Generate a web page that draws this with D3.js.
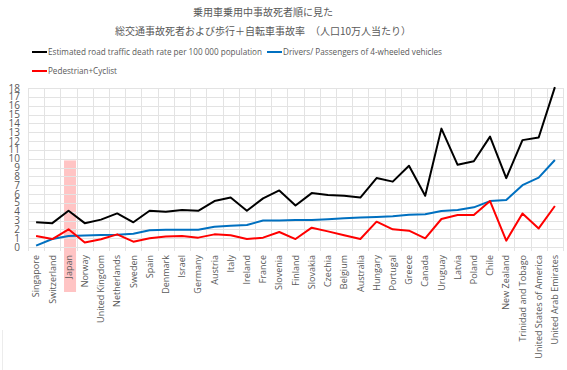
<!DOCTYPE html>
<html lang="ja">
<head>
    <meta charset="UTF-8">
    <title>Road traffic death rate</title>
    <style>
        body {
            margin: 0;
            background: #fff;
        }
        text {
            fill: #595959;
        }
    </style>
</head>
<body>

<div id="chart"></div>

<script src="https://d3js.org/d3.v7.min.js"></script>
<script>
    const countries = [
        "Singapore", "Switzerland", "Japan", "Norway", "United Kingdom", "Netherlands",
        "Sweden", "Spain", "Denmark", "Israel", "Germany", "Austria", "Italy", "Ireland",
        "France", "Slovenia", "Finland", "Slovakia", "Czechia", "Belgium", "Australia",
        "Hungary", "Portugal", "Greece", "Canada", "Uruguay", "Latvia", "Poland", "Chile",
        "New Zealand", "Trinidad and Tobago", "United States of America", "United Arab Emirates"
    ];

    // estimated road traffic death rate per 100 000 population
    const totalRate = [2.8, 2.7, 4.1, 2.7, 3.1, 3.8, 2.8, 4.1, 4.0, 4.2, 4.1, 5.2, 5.6, 4.1,
        5.5, 6.4, 4.7, 6.1, 5.9, 5.8, 5.6, 7.8, 7.4, 9.2, 5.8, 13.4, 9.3, 9.7, 12.5,
        7.8, 12.1, 12.4, 18.1];

    // drivers / passengers of 4-wheeled vehicles
    const vehicleRate = [0.15, 0.9, 1.25, 1.3, 1.35, 1.4, 1.5, 1.9, 1.95, 1.95, 1.95, 2.3, 2.4, 2.5,
        3.0, 3.0, 3.05, 3.05, 3.15, 3.25, 3.35, 3.4, 3.47, 3.66, 3.7, 4.08, 4.19, 4.49, 5.2,
        5.32, 7.0, 7.85, 9.85];

    // pedestrian + cyclist
    const pedCycRate = [1.24, 0.9, 2.0, 0.5, 0.87, 1.43, 0.6, 0.98, 1.2, 1.24, 1.06, 1.43, 1.32, 0.9,
        1.06, 1.7, 0.9, 2.19, 1.77, 1.32, 0.9, 2.87, 2.0, 1.85, 0.98, 3.17, 3.62, 3.62, 5.2,
        0.72, 3.8, 2.1, 4.64];

    const yTicks = d3.range(0, 19);
    const highlight = [{ country: "Japan", value: 9.8 }];

    const titleLines = [
        "乗用車乗用中事故死者順に見た",
        "総交通事故死者および歩行＋自転車事故率　（人口10万人当たり）"
    ];

    const series = [
        { name: "Estimated road traffic death rate per 100 000 population", values: totalRate, color: "#000000" },
        { name: "Drivers/ Passengers of 4-wheeled vehicles", values: vehicleRate, color: "#0070C0" },
        { name: "Pedestrian+Cyclist", values: pedCycRate, color: "#FF0000" }
    ];

    const width = 567;
    const height = 370;
    const plot = { left: 28, right: 563, top: 88, bottom: 247 };

    const svg = d3.select("#chart")
        .append("svg")
        .attr("width", width)
        .attr("height", height);

    const x = d3.scaleBand().domain(countries).range([plot.left, plot.right]);
    const y = d3.scaleLinear().domain([0, 18]).range([plot.bottom, plot.top]);

    // faint chart border piece at the left edge
    svg.append("line")
        .attr("x1", 2.5).attr("x2", 2.5)
        .attr("y1", 330).attr("y2", height)
        .attr("stroke", "#ececec");

    // Japan highlight
    svg.append("g")
        .selectAll("rect")
        .data(highlight)
        .enter()
        .append("rect")
        .attr("x", d => x(d.country) + x.bandwidth() / 2 - 4.5)
        .attr("width", 12)
        .attr("y", d => y(d.value))
        .attr("height", d => y(0) - y(d.value) + 45)
        .attr("fill", "#ffc4c4");

    // grid
    const grid = svg.append("g").attr("stroke", "#e3e3e3").attr("stroke-width", 1);
    grid.selectAll("line.h")
        .data(yTicks)
        .enter()
        .append("line")
        .attr("class", "h")
        .attr("x1", plot.left)
        .attr("x2", plot.right)
        .attr("y1", d => Math.round(y(d)) + 0.5)
        .attr("y2", d => Math.round(y(d)) + 0.5);

    const bounds = countries.map(c => x(c)).concat([plot.right]);
    grid.selectAll("line.v")
        .data(bounds)
        .enter()
        .append("line")
        .attr("class", "v")
        .attr("x1", d => Math.round(d) + 0.5)
        .attr("x2", d => Math.round(d) + 0.5)
        .attr("y1", plot.top)
        .attr("y2", plot.bottom + 4);

    // y axis labels
    svg.append("g")
        .selectAll("text")
        .data(yTicks)
        .enter()
        .append("text")
        .attr("x", 20)
        .attr("y", d => y(d))
        .attr("dy", "0.35em")
        .attr("text-anchor", "end")
        .attr("font-family", "Open Sans")
        .attr("font-size", 10)
        .text(d => d);

    // x axis labels
    svg.append("g")
        .selectAll("text")
        .data(countries)
        .enter()
        .append("text")
        .attr("transform", d => `translate(${x(d) + x.bandwidth() / 2 + 3.2},${plot.bottom + 8}) rotate(-90)`)
        .attr("text-anchor", "end")
        .attr("font-family", "Open Sans")
        .attr("font-size", 9)
        .text(d => d);

    // lines
    const line = d3.line()
        .x((d, i) => x(countries[i]) + x.bandwidth() / 2)
        .y(d => y(d));

    svg.append("g")
        .selectAll("path")
        .data(series)
        .enter()
        .append("path")
        .attr("d", d => line(d.values))
        .attr("fill", "none")
        .attr("stroke", d => d.color)
        .attr("stroke-width", 2)
        .attr("stroke-linejoin", "round");

    // title
    svg.append("g")
        .selectAll("text")
        .data(titleLines)
        .enter()
        .append("text")
        .attr("x", 263)
        .attr("y", (d, i) => 16 + i * 18.5)
        .attr("text-anchor", "middle")
        .attr("font-family", "Noto Sans CJK JP")
        .attr("font-size", 10)
        .text(d => d);

    // legend
    const legendPos = [
        { x: 32, y: 52, w: 214 },
        { x: 267, y: 52, w: 159 },
        { x: 32, y: 71, w: 69 }
    ];
    const legend = svg.append("g")
        .selectAll("g")
        .data(series)
        .enter()
        .append("g")
        .attr("transform", (d, i) => `translate(${legendPos[i].x},${legendPos[i].y})`);

    legend.append("line")
        .attr("x1", 0).attr("x2", 15)
        .attr("stroke", d => d.color)
        .attr("stroke-width", 2);

    legend.append("text")
        .attr("x", 16)
        .attr("dy", "0.35em")
        .attr("font-family", "Open Sans")
        .attr("font-size", 9)
        .attr("textLength", (d, i) => legendPos[i].w)
        .attr("lengthAdjust", "spacingAndGlyphs")
        .text(d => d.name);
</script>

</body>
</html>
